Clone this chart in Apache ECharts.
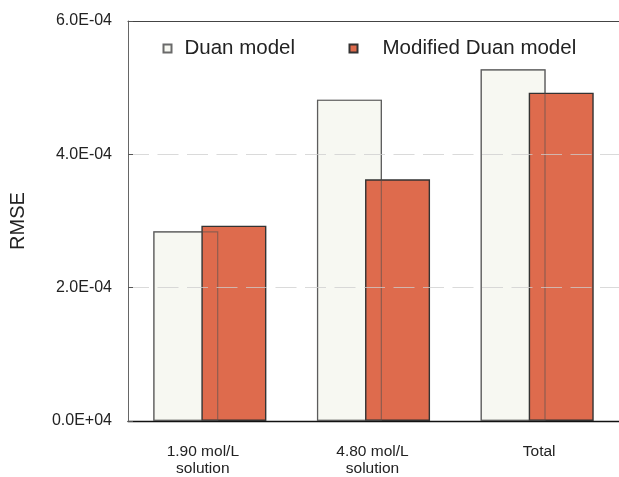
<!DOCTYPE html>
<html><head><meta charset="utf-8">
<script src="https://cdn.jsdelivr.net/npm/echarts@6/dist/echarts.min.js"></script>
<style>html,body{margin:0;padding:0;background:#fff}#c{width:619px;height:477px}</style>
</head><body><div id="c"></div>
<script>
const categories = ['1.90 mol/L\nsolution', '4.80 mol/L\nsolution', 'Total'];
const duanValues = [2.845e-4, 4.82e-4, 5.275e-4];
const modifiedValues = [2.93e-4, 3.625e-4, 4.925e-4];
const yTickLabels = ['0.0E+04', '2.0E-04', '4.0E-04', '6.0E-04'];
const seriesNames = ['Duan model', 'Modified Duan model'];

const FONT = "'Liberation Sans', Arial, sans-serif";
const chart = echarts.init(document.getElementById('c'), null, {renderer: 'canvas'});
const duanStyle = {color: '#f7f8f2', borderColor: '#6a6a6a', borderWidth: 1.2};
const modStyle = {color: '#de6b4d', borderColor: '#333333', borderWidth: 1.4};
const xLabelBase = {fontSize: 15.5, lineHeight: 17, color: '#222', fontFamily: FONT};

chart.setOption({
  animation: false,
  backgroundColor: '#ffffff',
  textStyle: {fontFamily: FONT},
  grid: {left: 128, width: 494, top: 21, height: 400, show: false},
  legend: [
    {data: [seriesNames[0]], left: 162.5, top: 38, padding: 0, icon: 'rect', itemWidth: 8, itemHeight: 8,
     textStyle: {fontSize: 20.5, color: '#222', fontFamily: FONT, padding: [0, 0, 0, 8]}},
    {data: [seriesNames[1]], left: 348.5, top: 38, padding: 0, icon: 'rect', itemWidth: 8, itemHeight: 8,
     textStyle: {fontSize: 20.5, color: '#222', fontFamily: FONT, padding: [0, 0, 0, 20]}}
  ],
  xAxis: [
    {type: 'category', data: categories, position: 'bottom',
     axisLine: {show: true, lineStyle: {color: '#111', width: 1.3}},
     axisTick: {show: false},
     axisLabel: Object.assign({}, xLabelBase, {margin: 22,
       formatter: function (v, i) { return v.split('\n').map(function (l) { return '{c' + i + '|' + l + '}'; }).join('\n'); },
       rich: {
         c0: Object.assign({}, xLabelBase, {padding: [0, 14, 0, 0]}),
         c1: Object.assign({}, xLabelBase, {padding: [0, 2, 0, 0]}),
         c2: Object.assign({}, xLabelBase, {padding: [0, 0, 0, 4]})
       }}),
     splitLine: {show: false}},
    {type: 'category', data: categories, position: 'top',
     axisLine: {show: true, lineStyle: {color: '#444', width: 1}},
     axisTick: {show: false}, axisLabel: {show: false}, splitLine: {show: false}}
  ],
  yAxis: {
    type: 'value', min: 0, max: 6e-4, interval: 2e-4, z: 4,
    name: 'RMSE', nameLocation: 'middle', nameRotate: 90, nameGap: 100,
    nameTextStyle: {fontSize: 20, color: '#222', fontFamily: FONT},
    axisLine: {show: true, lineStyle: {color: '#666', width: 1}},
    axisTick: {show: true, inside: true, length: 5, lineStyle: {color: '#555'}},
    axisLabel: {fontSize: 16, color: '#222', margin: 16, fontFamily: FONT,
      formatter: function (v) { return yTickLabels[Math.round(v / 2e-4)]; }},
    splitLine: {show: true, showMinLine: false, showMaxLine: false,
      lineStyle: {color: 'rgba(205,205,205,0.75)', width: 1.2, type: [21, 8.5]}}
  },
  series: [
    {type: 'bar', name: seriesNames[0], data: duanValues, barWidth: 65, barGap: '-26%', itemStyle: duanStyle, z: 2},
    {type: 'bar', name: seriesNames[1], data: modifiedValues, barWidth: 65, itemStyle: modStyle, z: 2},
    {type: 'bar', name: 'Duan edge', xAxisIndex: 1, data: duanValues, barWidth: 65, barGap: '-26%', silent: true, z: 3,
     itemStyle: {color: 'rgba(0,0,0,0)', borderColor: 'rgba(80,80,80,0.55)', borderWidth: 1.2}},
    {type: 'bar', name: 'spacer', xAxisIndex: 1, data: modifiedValues, barWidth: 65, silent: true, z: 3,
     itemStyle: {color: 'rgba(0,0,0,0)', borderWidth: 0}}
  ]
});
</script>
</body></html>
